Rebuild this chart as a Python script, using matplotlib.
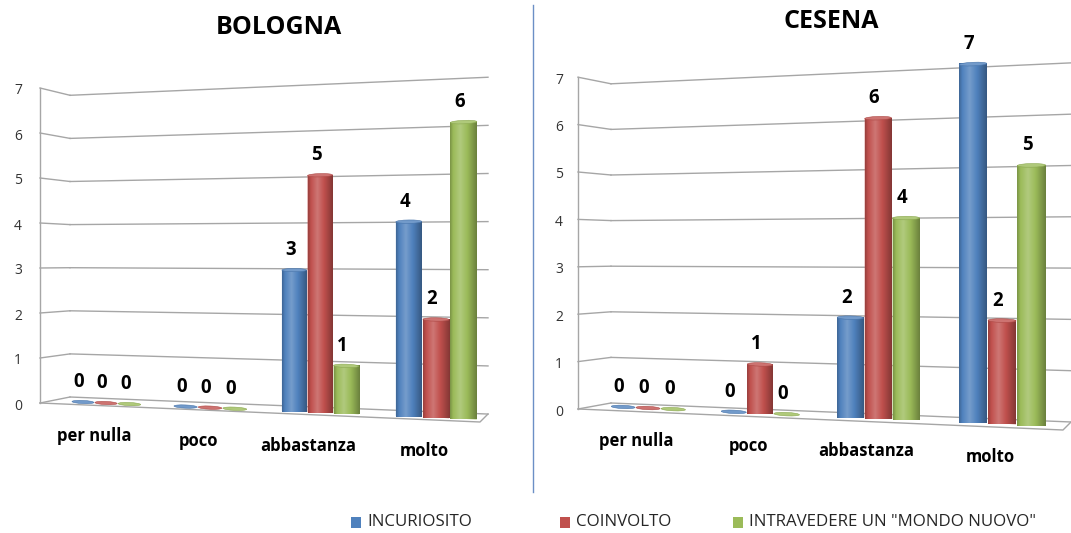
import numpy as np
import matplotlib
matplotlib.use('Agg')
import matplotlib.pyplot as plt
from matplotlib.transforms import Transform
from matplotlib.patches import Ellipse, Rectangle
from matplotlib.colors import to_rgb

# risposte per sede
categories = ['per nulla', 'poco', 'abbastanza', 'molto']
series_names = ['INCURIOSITO', 'COINVOLTO', 'INTRAVEDERE UN "MONDO NUOVO"']
series_colors = ['#4F81BD', '#C0504D', '#9BBB59']

bologna_incuriosito = [0, 0, 3, 4]
bologna_coinvolto = [0, 0, 5, 2]
bologna_mondo_nuovo = [0, 0, 1, 6]

cesena_incuriosito = [0, 0, 2, 7]
cesena_coinvolto = [0, 1, 6, 2]
cesena_mondo_nuovo = [0, 0, 4, 5]

y_ticks = [0, 1, 2, 3, 4, 5, 6, 7]

FONT = ['Open Sans', 'DejaVu Sans']
GRID = '#a6a6a6'


class Perspective(Transform):
    """finto 3D di Excel: base e scala verticale cambiano lungo x"""
    input_dims = 2
    output_dims = 2
    is_separable = False
    has_inverse = False

    def __init__(self, x0, a, b, ref, floor0, floor_slope, scale0, scale_slope):
        super().__init__()
        self.x0, self.a, self.b, self.ref = x0, a, b, ref
        self.floor0, self.floor_slope = floor0, floor_slope
        self.scale0, self.scale_slope = scale0, scale_slope

    def transform_non_affine(self, values):
        values = np.asarray(values, dtype=float)
        u, v = values[:, 0], values[:, 1]
        px = self.x0 + self.a * u + self.b * u ** 2
        d = px - self.ref
        py = self.floor0 + self.floor_slope * d - v * (self.scale0 + self.scale_slope * d)
        return np.column_stack([px, py])


def shade(color, k):
    c = np.array(to_rgb(color))
    if k >= 0:
        return tuple(c + (1 - c) * k)
    return tuple(c * (1 + k))


# profilo del cilindro (scuro ai bordi, riflesso a sinistra)
grad_t = [0.0, 0.12, 0.38, 0.7, 1.0]
grad_k = [-0.22, 0.0, 0.22, -0.05, -0.32]


def gradient(color, n=64):
    t = (np.arange(n) + 0.5) / n
    return np.array([[shade(color, k) for k in np.interp(t, grad_t, grad_k)]])


def draw_panel(ax, title, title_xy, data, bars, wall, side, wall_x, front, tick_x):
    bt = bars + ax.transData
    wt = wall + ax.transData
    st = side + ax.transData
    outer, inner, right = wall_x

    # pareti e griglia
    for v in y_ticks:
        ax.plot([outer, inner], [v, v], color=GRID, lw=1, transform=st, zorder=1)
        ax.plot([inner, right], [v, v], color=GRID, lw=1, transform=wt, zorder=1)
        ax.annotate(str(v), xy=(outer, v), xycoords=st, xytext=(tick_x - outer, -3),
                    textcoords='offset pixels', ha='center', va='center',
                    fontsize=10, color='#333333', family=FONT)
    ax.plot([outer, outer], [0, y_ticks[-1]], color=GRID, lw=1, transform=st, zorder=1)
    fx, fy = zip(*front)
    ax.plot(fx, fy, color=GRID, lw=1, zorder=1)

    # barre cilindriche
    offsets = [-0.23, 0.0, 0.23]
    width = 0.22
    for s, (vals, color) in enumerate(zip(data, series_colors)):
        u = np.arange(len(categories)) + offsets[s]
        bc = ax.bar(u, vals, width=width, color=color, linewidth=0,
                    transform=bt, zorder=2)
        for rect, ui, v in zip(bc, u, vals):
            if v > 0:
                corners = bars.transform([[ui - width / 2, 0], [ui + width / 2, 0],
                                          [ui - width / 2, v], [ui + width / 2, v]])
                x_min, y_min = corners.min(axis=0)
                x_max, y_max = corners.max(axis=0)
                im = ax.imshow(gradient(color), extent=(x_min, x_max, y_max, y_min),
                               aspect='auto', interpolation='bilinear', zorder=2.5)
                im.set_clip_path(rect)
            ax.add_patch(Ellipse((ui, v), width, 0.07, facecolor=shade(color, 0.2),
                                 edgecolor=shade(color, -0.1), lw=0.4, transform=bt, zorder=3))
            ax.annotate(str(v), xy=(ui, v), xycoords=bt, xytext=(-4, 20),
                        textcoords='offset pixels', ha='center', va='center',
                        fontsize=13.4, fontweight='bold', color='black', family=FONT)

    for i, cat in enumerate(categories):
        ax.annotate(cat, xy=(i, 0), xycoords=bt, xytext=(-12, -33),
                    textcoords='offset pixels', ha='center', va='center',
                    fontsize=12, fontweight='bold', color='black', family=FONT)

    ax.text(title_xy[0], title_xy[1], title, ha='center', va='center',
            fontsize=18, fontweight='bold', family=FONT)


fig = plt.figure(figsize=(10.71, 5.33), dpi=100)
ax = fig.add_axes([0, 0, 1, 1])

draw_panel(ax, 'BOLOGNA', (279, 27),
           [bologna_incuriosito, bologna_coinvolto, bologna_mondo_nuovo],
           Perspective(106, 101, 3, 295, 411.4, 0.0443, 47.1, 0.014),
           Perspective(0, 1, 0, 70, 397, 0.0408, 43.1, 0.012),
           Perspective(0, 1, 0, 40, 403, -0.2, 45.0, -0.0633),
           (40, 70, 488),
           [(40, 403), (480, 422), (488, 414)], 18)

draw_panel(ax, 'CESENA', (831, 22),
           [cesena_incuriosito, cesena_coinvolto, cesena_mondo_nuovo],
           Perspective(648, 109, 3, 878, 418.2, 0.0442, 50.0, 0.0125),
           Perspective(0, 1, 0, 611, 403, 0.0413, 45.6, 0.0124),
           Perspective(0, 1, 0, 578, 409, -0.182, 47.4, -0.0545),
           (578, 611, 1071),
           [(578, 409), (1063, 430), (1071, 422)], 559)

# separatore tra i due grafici
ax.plot([533, 533], [5, 492], color='#6b8fc6', lw=1)

# legenda
legend_x = [351, 560, 733]
for x, name, color in zip(legend_x, series_names, series_colors):
    ax.add_patch(Rectangle((x, 517), 10, 11, facecolor=color, edgecolor='none'))
    ax.text(x + 16, 522.5, name, ha='left', va='center', fontsize=12.2,
            color='#262626', family=FONT)

ax.set_xlim(0, 1071)
ax.set_ylim(533, 0)
ax.axis('off')

fig.savefig('out.png', dpi=100, facecolor='white')
